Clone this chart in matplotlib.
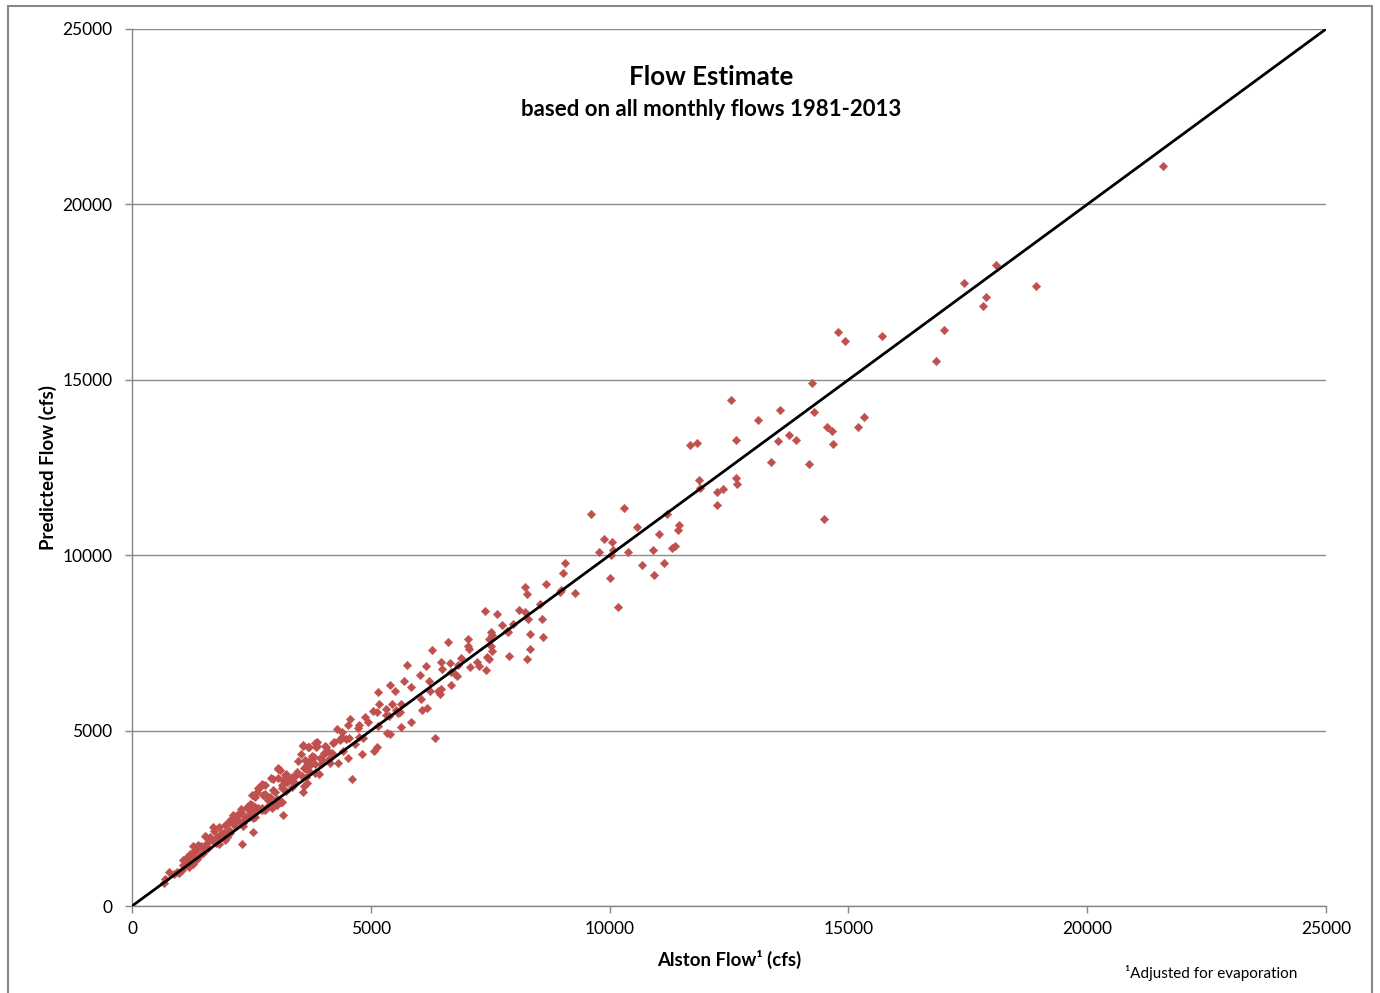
import matplotlib
matplotlib.use('Agg')
import numpy as np
from matplotlib import pyplot as plt
from matplotlib.patches import Rectangle

plt.rcParams['font.family'] = ['Lato', 'DejaVu Sans']

# monthly flows, cfs
alston_flow = [
    21590, 18090, 17420, 17880, 17820, 18930, 17000, 16830, 15700, 14780, 14930,
    12540, 13560, 14230, 14270, 13100, 15330, 15190, 14550, 14650, 14670, 13760,
    13910, 13530, 12640, 11690, 11830, 13380, 14170, 14490, 11870, 11890, 12640,
    12660, 12370, 12250, 12250, 9600, 10300, 10580, 11200, 11450, 11430, 11040,
    9880, 10040, 10080, 9780, 10390, 10030, 10910, 11360, 11300, 11130, 10680,
    10930, 10000, 9070, 9020, 8980, 9280, 10180,
    8660, 8230, 8260, 8970, 8550, 7380, 7640, 8100, 8230, 8290, 8590, 7750, 7970,
    7850, 7880, 8330, 8610, 7520, 7530, 7480, 7040, 6620, 6270, 7040, 7060, 7520,
    7540, 7900, 8330, 8270, 7440, 7480, 7410, 7230, 7270, 6880, 6820, 7080, 6660,
    6460, 6480, 6160, 5750, 5700, 6020, 5840, 6220, 6670, 6770, 6800, 6670, 6460,
    6400, 6440, 6240, 6060, 5640, 5610, 6180, 6070, 5840, 5640, 6340,
    5410, 5510, 5140, 5450, 5530, 5560, 5320, 5310, 5160, 5050, 5130, 5370, 5330,
    5410, 5150, 4880, 4930, 4750, 4730, 4560, 4520, 4290, 4350, 4400, 4470, 4540,
    4760, 4840, 4670, 5120, 5060, 4810, 4520, 4310, 4420, 4230, 4040, 4110, 3870,
    3850, 3710, 3570, 3760, 4010, 3980, 4130, 4150, 3950, 3820, 3730, 3660, 3540,
    3480, 3620, 3710, 3830, 3920, 3560, 3640, 3670, 3600, 3570, 4600, 3410, 3290,
    3220, 3170, 3390, 3350, 3130, 3220, 3130, 3100,
    3060, 2910, 2960, 2720, 2630, 2610, 2580, 2780, 2840, 3030, 3000, 3170, 2830,
    2720, 2550, 2490, 2400, 2280, 2230, 2120, 2050, 2160, 2350, 2440, 2530, 2320,
    2530, 2300, 1810, 1720, 1930, 1830, 1980, 2040, 1630, 1530, 1760, 1560, 1440,
    1280, 1330, 1210, 1160, 1070, 1060, 1120, 1200, 1280, 1350, 1480, 980, 780,
    880, 680, 660,
    2770, 2990, 2870, 3120, 3030, 2940, 2780, 2640, 2510, 2470, 2580, 2370, 2280,
    2230, 2330, 2140, 2020, 1950, 2190, 2050, 1880, 1770, 1810, 1700, 1550, 1670,
    1950, 1390, 1490, 1600, 1320, 1250, 1180, 1320, 1110, 1210, 1040, 940, 1420,
    4390, 4360, 4210, 4070, 3870, 3690, 3570, 3830, 4040, 4180, 3940, 3800, 3620,
    3730, 3590, 3450, 3340, 3200, 3060, 3060, 3240, 3410, 3130, 2960, 2780, 2680,
    2750, 2890, 3100, 2510, 2470, 2580, 2440, 2720,
]
predicted_flow = [
    21090, 18270, 17760, 17360, 17100, 17670, 16420, 15540, 16250, 16360, 16110,
    14420, 14150, 14920, 14070, 13850, 13930, 13650, 13650, 13550, 13170, 13440,
    13270, 13250, 13270, 13140, 13190, 12650, 12590, 11030, 12150, 11930, 12210,
    12040, 11880, 11790, 11430, 11170, 11350, 10810, 11170, 10860, 10720, 10610,
    10450, 10370, 10150, 10090, 10090, 10010, 10150, 10260, 10210, 9770, 9710,
    9440, 9360, 9790, 9490, 9010, 8920, 8530,
    9190, 9080, 8880, 8950, 8620, 8400, 8320, 8430, 8370, 8180, 8180, 8020, 8050,
    7850, 7800, 7760, 7660, 7810, 7730, 7600, 7620, 7530, 7300, 7420, 7330, 7400,
    7280, 7140, 7330, 7050, 7110, 7030, 6730, 6950, 6840, 7070, 6860, 6800, 6920,
    6950, 6760, 6830, 6860, 6420, 6580, 6250, 6420, 6660, 6600, 6550, 6310, 6200,
    6140, 6040, 6140, 5900, 5760, 5540, 5650, 5590, 5250, 5110, 4780,
    6290, 6140, 6100, 5760, 5590, 5510, 5620, 5440, 5760, 5550, 5540, 5430, 4940,
    4910, 5130, 5390, 5250, 5160, 5080, 5330, 5150, 5040, 4750, 4830, 4750, 4780,
    4810, 4780, 4620, 4530, 4420, 4330, 4230, 4080, 4420, 4680, 4560, 4430, 4680,
    4520, 4530, 4590, 4280, 4350, 4160, 4180, 4070, 4040, 4050, 4160, 4010, 4340,
    4140, 3920, 3860, 3800, 3760, 3710, 3680, 3510, 3430, 3260, 3630, 3710, 3600,
    3760, 3590, 3520, 3400, 3450, 3280, 2970, 3880,
    3910, 3640, 3620, 3470, 3350, 3240, 3120, 3190, 3020, 3040, 2920, 2590, 2810,
    2740, 2710, 2890, 2810, 2760, 2620, 2590, 2450, 2470, 2450, 2530, 2500, 2280,
    2120, 1760, 2260, 2150, 2090, 2000, 1960, 2170, 1960, 2000, 1800, 1800, 1710,
    1710, 1600, 1480, 1410, 1310, 1170, 1230, 1120, 1210, 1330, 1520, 930, 980,
    910, 770, 660,
    3160, 3260, 3070, 2970, 2880, 2780, 2740, 2780, 2880, 2640, 2540, 2540, 2690,
    2430, 2360, 2310, 2400, 2310, 2590, 2070, 2070, 1970, 1780, 2260, 1970, 1880,
    1880, 1740, 1690, 1640, 1600, 1450, 1310, 1310, 1170, 1170, 1030, 980, 1450,
    4950, 4730, 4640, 4540, 4570, 4540, 4570, 4660, 4350, 4350, 4210, 4250, 4160,
    4020, 3920, 3830, 3690, 3730, 3920, 3640, 3540, 3500, 3350, 3310, 3450, 3400,
    3160, 3110, 2970, 3160, 2920, 2830, 2740, 2780,
]

line_x = [0, 25000]
ticks = [0, 5000, 10000, 15000, 20000, 25000]

fig = plt.figure(figsize=(13.8, 9.93), dpi=100)
ax = fig.add_axes([0.0957, 0.0876, 0.8652, 0.8832])

ax.scatter(alston_flow, predicted_flow, marker='D', s=19, color='#C0504D',
           edgecolors='#C0504D', linewidths=0.3, zorder=3)
ax.plot(line_x, line_x, color='black', linewidth=2.0, zorder=4)

ax.set_xlim(0, 25000)
ax.set_ylim(0, 25000)
ax.set_xticks(ticks)
ax.set_yticks(ticks)
ax.tick_params(axis='both', labelsize=12.5, colors='#868686', labelcolor='black',
               length=5, width=1, direction='out', pad=6)
ax.tick_params(axis='y', pad=9)
ax.grid(axis='y', color='#8c8c8c', linewidth=1)
ax.set_axisbelow(True)
for s in ['top', 'right']:
    ax.spines[s].set_visible(False)
for s in ['left', 'bottom']:
    ax.spines[s].set_color('#868686')
    ax.spines[s].set_linewidth(1)

ax.set_xlabel('Alston Flow¹ (cfs)', fontsize=13.4, fontweight='bold', labelpad=9)
ax.set_ylabel('Predicted Flow (cfs)', fontsize=13.5, fontweight='bold', labelpad=4)

ax.text(0.485, 0.945, 'Flow Estimate', transform=ax.transAxes, ha='center',
        va='center', fontsize=18.6, fontweight='bold')
ax.text(0.485, 0.908, 'based on all monthly flows 1981-2013', transform=ax.transAxes,
        ha='center', va='center', fontsize=16, fontweight='bold')

fig.text(1125 / 1380, 1 - 973 / 993, '¹Adjusted for evaporation', ha='left',
         va='center', fontsize=11)

fig.patches.append(Rectangle((8 / 1380, -0.01), 1364 / 1380, 1 - 6 / 993 + 0.01,
                             transform=fig.transFigure, fill=False,
                             edgecolor='#888888', linewidth=1.5))

fig.savefig('out.png', dpi=100)
